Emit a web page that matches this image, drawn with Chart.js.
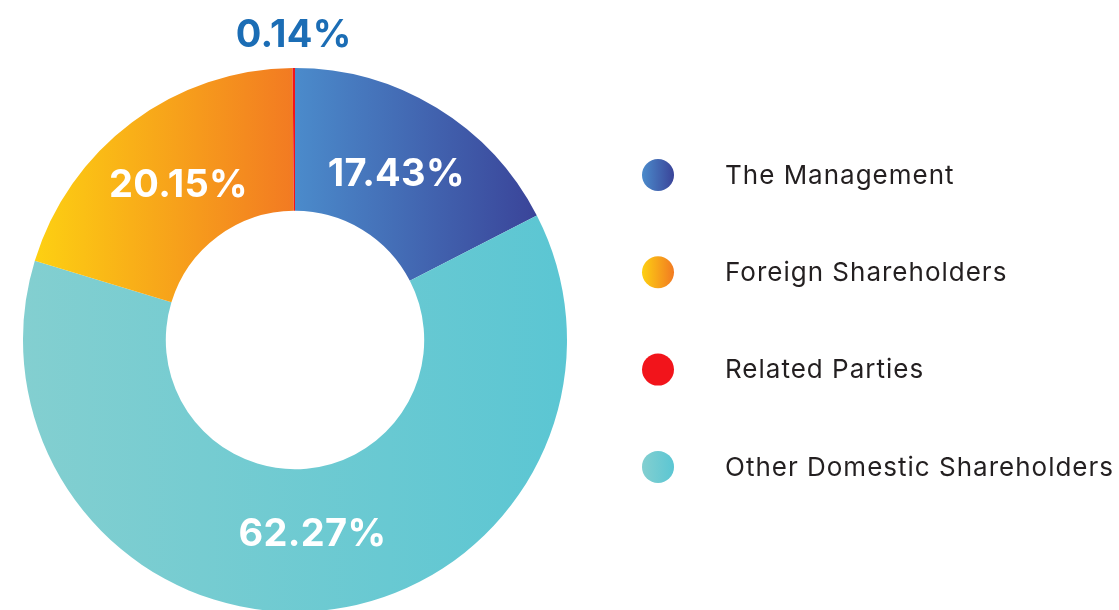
<!DOCTYPE html>
<html><head><meta charset="utf-8">
<script src="https://cdn.jsdelivr.net/npm/chart.js@4.4.1/dist/chart.umd.min.js"></script>
<style>
html,body{margin:0;padding:0;background:#fff;overflow:hidden;}
#wrap{position:relative;width:1119px;height:614px;}
</style></head><body>
<div id="wrap"><canvas id="c"></canvas></div>
<script>
// ---- data ----
const categories = ['The Management', 'Other Domestic Shareholders', 'Foreign Shareholders', 'Related Parties'];
const shares = [17.43, 62.27, 20.15, 0.14];
const shareLabels = ['17.43%', '62.27%', '20.15%', '0.14%'];
const legendOrder = ['The Management', 'Foreign Shareholders', 'Related Parties', 'Other Domestic Shareholders'];
// ---- styles ----
const gradientStops = [['#4b8bcb', '#3a4499'], ['#83cfd0', '#5bc6d3'], ['#fdd012', '#f27a22'], ['#f2141b', '#f2141b']];
const CUTOUT = 0.475;
const FONT = 'Inter, "Open Sans", sans-serif';

function sliceGradient(ctx) {
  const chart = ctx.chart, area = chart.chartArea, i = ctx.dataIndex;
  const stops = gradientStops[i];
  if (!area) return stops[0];
  const data = ctx.dataset.data;
  const total = data.reduce((a, b) => a + b, 0);
  let before = 0;
  for (let k = 0; k < i; k++) before += data[k];
  const s = -Math.PI / 2 + 2 * Math.PI * before / total;
  const e = s + 2 * Math.PI * data[i] / total;
  const cx = (area.left + area.right) / 2;
  const R = Math.min(area.width, area.height) / 2, r = R * CUTOUT;
  const xs = [R * Math.cos(s), R * Math.cos(e), r * Math.cos(s), r * Math.cos(e)];
  for (let k = -2; k <= 4; k++) {
    const a = k * Math.PI;
    if (a > s && a < e) xs.push(R * Math.cos(a));
  }
  const minX = Math.min(...xs), maxX = Math.max(...xs);
  const g = chart.ctx.createLinearGradient(cx + minX, 0, cx + maxX + 0.01, 0);
  g.addColorStop(0, stops[0]);
  g.addColorStop(1, stops[1]);
  return g;
}

const labelPlugin = {
  id: 'sliceLabels',
  afterDatasetsDraw(chart) {
    const ctx = chart.ctx;
    const meta = chart.getDatasetMeta(0);
    ctx.save();
    ctx.textAlign = 'center';
    ctx.textBaseline = 'middle';
    ctx.font = '700 38px ' + FONT;
    ctx.letterSpacing = '0.3px';
    meta.data.forEach((arc, i) => {
      const p = arc.getProps(['x', 'y', 'startAngle', 'endAngle', 'innerRadius', 'outerRadius'], true);
      const mid = (p.startAngle + p.endAngle) / 2;
      let rad, color;
      if (shares[i] >= 1) { rad = (p.innerRadius + p.outerRadius) / 2 - 6; color = '#ffffff'; }
      else { rad = p.outerRadius + 33; color = '#1b6db5'; }
      ctx.fillStyle = color;
      ctx.fillText(shareLabels[i], p.x + rad * Math.cos(mid), p.y + rad * Math.sin(mid) + 1);
    });
    ctx.restore();
  }
};

const legendPlugin = {
  id: 'sideLegend',
  afterDraw(chart) {
    const ctx = chart.ctx;
    ctx.save();
    ctx.textAlign = 'left';
    ctx.textBaseline = 'middle';
    ctx.font = '400 26px ' + FONT;
    ctx.letterSpacing = '1px';
    legendOrder.forEach((name, k) => {
      const i = categories.indexOf(name);
      const cx = 658, cy = 175 + k * 97.3, rr = 16;
      const g = ctx.createLinearGradient(cx - rr, 0, cx + rr, 0);
      g.addColorStop(0, gradientStops[i][0]);
      g.addColorStop(1, gradientStops[i][1]);
      ctx.beginPath();
      ctx.arc(cx, cy, rr, 0, Math.PI * 2);
      ctx.fillStyle = g;
      ctx.fill();
      ctx.fillStyle = '#231f20';
      ctx.fillText(name, 725, cy + 1);
    });
    ctx.restore();
  }
};

new Chart(document.getElementById('c'), {
  type: 'doughnut',
  data: {
    labels: categories,
    datasets: [{
      data: shares,
      backgroundColor: sliceGradient,
      borderWidth: 0,
      hoverOffset: 0
    }]
  },
  options: {
    responsive: true,
    maintainAspectRatio: false,
    animation: false,
    cutout: (CUTOUT * 100) + '%',
    layout: { padding: { left: 23, right: 552, top: 68, bottom: 2 } },
    plugins: { legend: { display: false }, tooltip: { enabled: false } }
  },
  plugins: [labelPlugin, legendPlugin]
});
</script>
</body></html>
